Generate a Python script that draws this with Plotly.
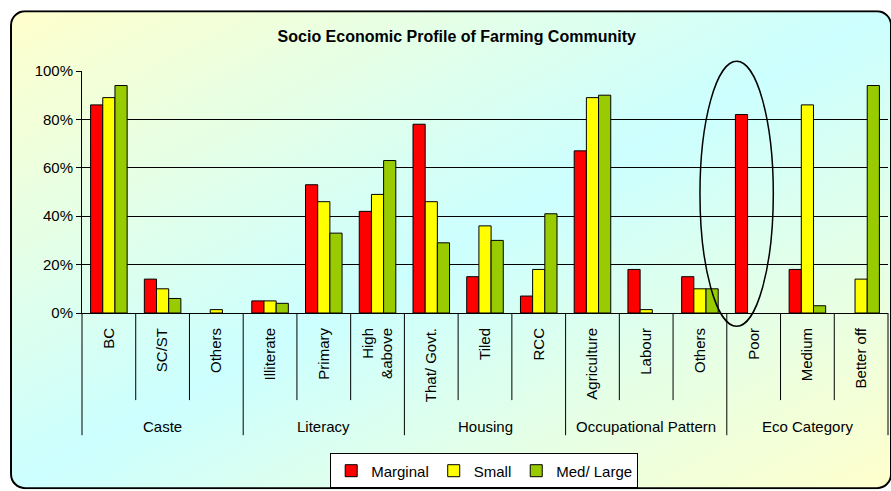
import base64
import plotly.graph_objects as go

# categories (two levels) and survey shares in percent
groups = ["Caste", "Literacy", "Housing", "Occupational Pattern", "Eco Category"]
group_sizes = [3, 3, 3, 3, 3]
categories = ["BC", "SC/ST", "Others",
              "Illiterate", "Primary", "High<br>&above",
              "That/ Govt.", "Tiled", "RCC",
              "Agriculture", "Labour", "Others",
              "Poor", "Medium", "Better off"]

marginal = [86, 14, 0, 5, 53, 42, 78, 15, 7, 67, 18, 15, 82, 18, 0]
small = [89, 10, 1.4, 5, 46, 49, 46, 36, 18, 89, 1.4, 10, 0, 86, 14]
med_large = [94, 6, 0, 4, 33, 63, 29, 30, 41, 90, 0, 10, 0, 3, 94]

series = [("Marginal", marginal, "#FF0000"),
          ("Small", small, "#FFFF00"),
          ("Med/ Large", med_large, "#99CC00")]

FONT = "Liberation Sans, Arial, sans-serif"
xs = list(range(len(categories)))

fig = go.Figure()
for name, vals, col in series:
    # no outline on empty bars, like the original
    widths = [0 if v == 0 else 1 for v in vals]
    fig.add_trace(go.Bar(x=xs, y=vals, name=name,
                         marker=dict(color=col, line=dict(color="black", width=widths))))

# chart area background: rounded box with diagonal gradient
svg = """<svg xmlns='http://www.w3.org/2000/svg' width='882' height='479' viewBox='0 0 882 479' preserveAspectRatio='none'>
<defs><linearGradient id='g' x1='0' y1='0' x2='1' y2='1'>
<stop offset='0' stop-color='#FFFFCC'/><stop offset='0.5' stop-color='#CCFFFF'/><stop offset='1' stop-color='#FFFFCC'/>
</linearGradient></defs>
<rect x='1' y='1' width='880' height='477' rx='14' ry='14' fill='url(#g)' stroke='black' stroke-width='2'/>
</svg>"""
src = "data:image/svg+xml;base64," + base64.b64encode(svg.encode()).decode()
fig.add_layout_image(dict(source=src, xref="paper", yref="paper",
                          x=-0.0893, y=1.251, sizex=1.0943, sizey=1.979,
                          sizing="stretch", xanchor="left", yanchor="top",
                          layer="below"))

# category separators below the axis
n = len(categories)
bounds = [0]
for s in group_sizes:
    bounds.append(bounds[-1] + s)
for k in range(n + 1):
    y_end = -0.505 if k in bounds else -0.36
    fig.add_shape(type="line", xref="paper", yref="paper",
                  x0=k / n, x1=k / n, y0=0, y1=y_end,
                  line=dict(color="black", width=1))

# group labels
for i, g in enumerate(groups):
    center = (bounds[i] + bounds[i + 1] - 1) / 2
    fig.add_annotation(x=center, xref="x", y=-0.47, yref="paper",
                       text=g, showarrow=False, yanchor="middle",
                       font=dict(family=FONT, size=15, color="black"))

# ellipse highlighting "Poor"
fig.add_shape(type="circle", xref="paper", yref="paper",
              x0=0.7667, x1=0.8577, y0=-0.055, y1=1.04,
              line=dict(color="black", width=1.5), layer="above")

fig.update_layout(
    width=891, height=491,
    margin=dict(l=82, r=3, t=71, b=178, autoexpand=False),
    paper_bgcolor="white",
    plot_bgcolor="#C0C0C0",
    barmode="group", bargap=0.32, bargroupgap=0,
    font=dict(family=FONT, size=15, color="black"),
    title=dict(text="<b>Socio Economic Profile of Farming Community</b>",
               x=0.5126, xref="container", xanchor="center",
               y=0.925, yref="container", yanchor="middle",
               font=dict(family=FONT, size=16, color="black")),
    legend=dict(orientation="h", x=0.499, xanchor="center", y=-0.725, yanchor="bottom",
                bgcolor="white", bordercolor="black", borderwidth=1,
                font=dict(family=FONT, size=15), itemwidth=30),
    showlegend=True,
)
fig.update_xaxes(range=[-0.5, n - 0.5], tickvals=xs, ticktext=categories,
                 tickangle=-90, ticks="", showgrid=False, zeroline=False,
                 showline=True, linecolor="black", linewidth=1,
                 ticklabelstandoff=8,
                 tickfont=dict(family=FONT, size=15))
fig.update_yaxes(range=[0, 100], dtick=20, ticksuffix="%",
                 showgrid=True, gridcolor="black", gridwidth=1,
                 zeroline=False, showline=True, linecolor="black", linewidth=1,
                 ticks="outside", ticklen=5, tickcolor="black",
                 tickfont=dict(family=FONT, size=15))

fig.write_html("out.html", config={"displayModeBar": False},
               post_script="document.body.style.margin='0';")
